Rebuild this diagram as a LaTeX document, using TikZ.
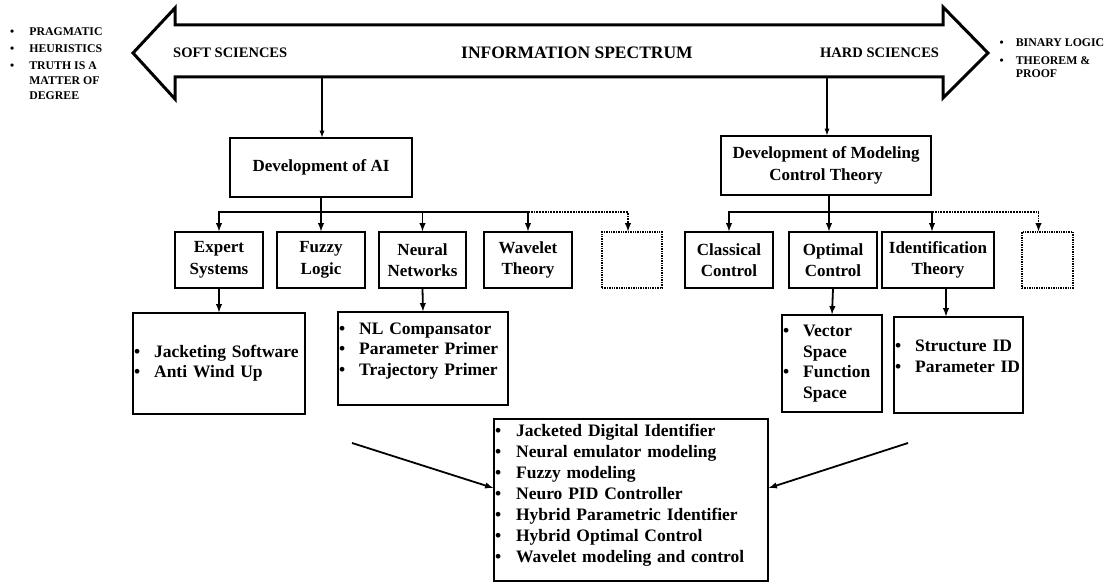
\documentclass[tikz,border=0pt]{standalone}
\usepackage{fontspec}
\setmainfont{Liberation Serif}
\usetikzlibrary{arrows}
\newcommand\boxfont{\bfseries\fontsize{17}{21.5}\selectfont}
\newcommand\listfont{\bfseries\fontsize{17.5}{20.5}\selectfont}
\newcommand\sidefont{\bfseries\fontsize{11.8}{15}\selectfont}
\tikzset{
  band/.style = {line width=3pt, line join=miter},
  topic/.style = {draw, line width=1.4pt, align=center, font=\boxfont, inner sep=0pt},
  blank/.style = {topic, densely dotted},
  listbox/.style = {draw, line width=1.4pt, align=left, font=\listfont, inner xsep=1pt, inner ysep=0pt},
  side/.style = {font=\sidefont, inner sep=0pt, anchor=base west},
  feed/.style = {line width=1.8pt, -latex},
  tap/.style = {line width=1.3pt, -latex},
}

\begin{document}
\begin{tikzpicture}[x=1pt, y=-1pt]
  \useasboundingbox (0,0) rectangle (1110,583);
  % the spectrum band
  \draw[band] (133,53) -- (175,8) -- (175,25) -- (943,25) -- (943,7) -- (988,53)
    -- (943,98) -- (943,77) -- (175,77) -- (175,99) -- cycle;
  \node[font=\bfseries\fontsize{14.5}{17}\selectfont, anchor=west, inner sep=0pt] (soft) at (173,53) {SOFT SCIENCES};
  \node[font=\bfseries\fontsize{17.5}{20}\selectfont, inner sep=0pt] (spectrum) at (577,53) {INFORMATION SPECTRUM};
  \node[font=\bfseries\fontsize{14.5}{17}\selectfont, anchor=west, inner sep=0pt] (hard) at (820,53) {HARD SCIENCES};
  \node[side] (softnotes) at (10,36) {\begin{tabular}[t]{@{}l@{\hspace{15pt}}l@{}}
    \textbullet & PRAGMATIC\\[2pt]
    \textbullet & HEURISTICS\\[2pt]
    \textbullet & TRUTH IS A\\
                & MATTER OF\\
                & DEGREE
  \end{tabular}};
  \node[side] (hardnotes) at (999.5,47) {\begin{tabular}[t]{@{}l@{\hspace{12pt}}l@{}}
    \textbullet & BINARY LOGIC\\[3pt]
    \textbullet & THEOREM \&\\[-2pt]
                & PROOF
  \end{tabular}};
  \coordinate (softtap) at (322,77);
  \coordinate (hardtap) at (827,77);

  % two branches
  \node[topic, minimum width=182pt, minimum height=59pt] (ai) at (321,167.5) {Development of AI};
  \node[topic, minimum width=210pt, minimum height=59pt] (model) at (826,165.5) {Development of  Modeling\\Control Theory};
  \draw[tap] (softtap) -- (softtap |- ai.north);
  \draw[tap] (hardtap) -- (hardtap |- model.north);

  \node[topic, minimum width=88pt, minimum height=56pt] (expert) at (219,260) {Expert\\Systems};
  \node[topic, minimum width=88pt, minimum height=56pt] (fuzzy) at (321,260) {Fuzzy\\Logic};
  \node[topic, minimum width=87pt, minimum height=56pt] (neural) at (422.5,260) {Neural\\Networks};
  \node[topic, minimum width=88pt, minimum height=56pt] (wavelet) at (528,260) {Wavelet\\Theory};
  \node[blank, minimum width=60pt, minimum height=56pt] (blankai) at (632,260) {};
  \node[topic, minimum width=88pt, minimum height=56pt] (classical) at (729,260) {Classical\\Control};
  \node[topic, minimum width=88pt, minimum height=56pt] (optimal) at (833,260) {Optimal\\Control};
  \node[topic, minimum width=112pt, minimum height=56pt] (ident) at (938,260) {Identification\\Theory};
  \node[blank, minimum width=51pt, minimum height=56pt] (blankmc) at (1047.5,260) {};

  \coordinate (aibus) at (321,212);
  \coordinate (mcbus) at (829,212);
  \draw[feed] (ai.south) -- (fuzzy.north);
  \draw[feed] (aibus) -| (expert.north);
  \draw[feed] (aibus) -| (neural.north);
  \draw[feed] (aibus) -| (wavelet.north);
  \draw[feed, densely dotted] (wavelet.north |- aibus) -| ([xshift=-4pt]blankai.north);
  \draw[feed] (mcbus |- model.south) -- (mcbus |- optimal.north);
  \draw[feed] (mcbus) -| (classical.north);
  \draw[feed] (mcbus) -| ([xshift=-6pt]ident.north);
  \draw[feed, densely dotted] ([xshift=-6pt]ident.north |- mcbus) -| ([xshift=-9pt]blankmc.north);

  % detail lists
  \node[listbox, minimum width=172pt, minimum height=101pt, text width=170pt] (jacket) at (219,363.5) {\begin{tabular}{@{}l@{\hspace{14pt}}l@{}}
    \textbullet & Jacketing Software\\
    \textbullet & Anti Wind Up
  \end{tabular}};
  \node[listbox, minimum width=170pt, minimum height=93pt, text width=168pt] (nllist) at (423,358.5) {\begin{tabular}{@{}l@{\hspace{14pt}}l@{}}
    \textbullet & NL Compansator\\
    \textbullet & Parameter Primer\\
    \textbullet & Trajectory Primer\\[16pt]
  \end{tabular}};
  \node[listbox, minimum width=100pt, minimum height=97pt, text width=98pt] (vecbox) at (832,363.5) {\begin{tabular}{@{}l@{\hspace{14pt}}l@{}}
    \textbullet & Vector\\
                & Space\\
    \textbullet & Function\\
                & Space
  \end{tabular}};
  \node[listbox, minimum width=129pt, minimum height=96pt, text width=127pt] (idbox) at (958.5,365) {\begin{tabular}{@{}l@{\hspace{14pt}}l@{}}
    \textbullet & Structure ID\\
    \textbullet & Parameter ID\\[14pt]
  \end{tabular}};
  \draw[feed] (expert.south) -- (jacket.north);
  \draw[feed] (neural.south) -- (nllist.north);
  \draw[feed] (optimal.south) -- (vecbox.north);
  \draw[feed] ([xshift=8pt]ident.south) -- ([xshift=8pt]ident.south |- idbox.north);

  % hybrid results
  \node[listbox, minimum width=274pt, minimum height=162pt, text width=272pt, font=\bfseries\fontsize{17.5}{21}\selectfont] (hybrid) at (631,500) {\begin{tabular}{@{}l@{\hspace{15pt}}l@{}}
    \textbullet & Jacketed Digital Identifier\\
    \textbullet & Neural emulator modeling\\
    \textbullet & Fuzzy modeling\\
    \textbullet & Neuro PID Controller\\
    \textbullet & Hybrid Parametric Identifier\\
    \textbullet & Hybrid Optimal Control\\
    \textbullet & Wavelet modeling and control\\[10pt]
  \end{tabular}};
  \coordinate (aifeed) at (352,443);
  \coordinate (mcfeed) at (908,443);
  \draw[feed] (aifeed) -- ([yshift=12pt]hybrid.west);
  \draw[feed] (mcfeed) -- ([yshift=12pt]hybrid.east);
\end{tikzpicture}
\end{document}
